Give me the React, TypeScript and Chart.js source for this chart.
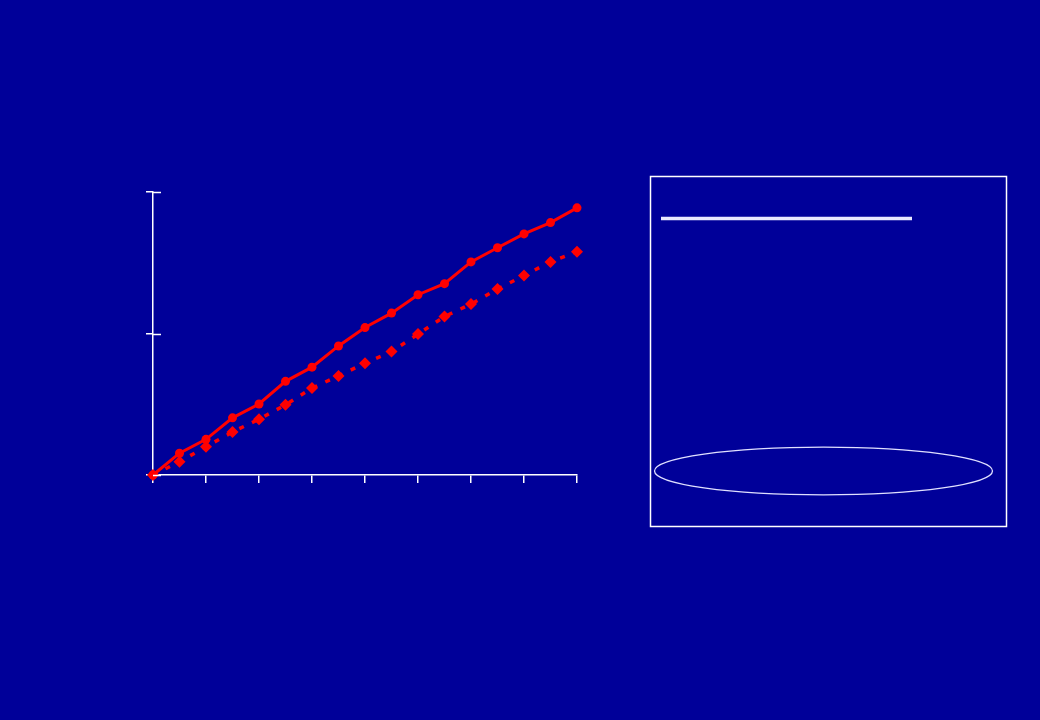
import React, { useEffect, useRef } from "react";
import { Chart, registerables } from "chart.js";

Chart.register(...registerables);

const xValues = [0, 1, 2, 3, 4, 5, 6, 7, 8, 9, 10, 11, 12, 13, 14, 15, 16];
const solidSeries = [0, 7.7, 12.6, 20.2, 25.1, 33.1, 38.1, 45.6, 52.1, 57.2, 63.7, 67.6, 75.3, 80.3, 85.2, 89.2, 94.4];
const dottedSeries = [0, 4.7, 10.0, 15.2, 19.7, 24.8, 30.7, 35.0, 39.5, 43.6, 49.8, 56.0, 60.4, 65.7, 70.5, 75.3, 78.9];
const yTicks = [0, 50, 100];
const xTickStep = 2;

const BG = "#000099";
const RED = "#ff0000";

const decorPlugin = {
  id: "decor",
  beforeDraw(chart: any) {
    const ctx = chart.ctx;
    ctx.save();
    ctx.fillStyle = BG;
    ctx.fillRect(0, 0, chart.width, chart.height);
    ctx.restore();
  },
  afterDraw(chart: any) {
    const ctx = chart.ctx;
    const ys = chart.scales.y;
    const area = chart.chartArea;
    ctx.save();
    ctx.strokeStyle = "#ffffff";
    ctx.lineWidth = 1.5;
    for (const v of yTicks) {
      const py = Math.round(ys.getPixelForValue(v)) + 0.5;
      ctx.beginPath();
      ctx.moveTo(area.left, py);
      ctx.lineTo(area.left + 8, py);
      ctx.stroke();
    }
    ctx.lineWidth = 1.5;
    ctx.strokeStyle = "#ffffff";
    ctx.strokeRect(650.5, 176.5, 356, 350);
    ctx.lineWidth = 3.5;
    ctx.strokeStyle = "#e8e8ff";
    ctx.beginPath();
    ctx.moveTo(661, 218.5);
    ctx.lineTo(912, 218.5);
    ctx.stroke();
    ctx.lineWidth = 1.3;
    ctx.strokeStyle = "#e0e0ff";
    ctx.beginPath();
    ctx.ellipse(823.5, 471, 169, 23.8, 0, 0, Math.PI * 2);
    ctx.stroke();
    ctx.restore();
  },
};

export default function App() {
  const ref = useRef<HTMLCanvasElement | null>(null);

  useEffect(() => {
    if (!ref.current) return;
    const chart = new Chart(ref.current, {
      type: "line",
      data: {
        datasets: [
          {
            label: "solid",
            data: xValues.map((x, i) => ({ x, y: solidSeries[i] })),
            borderColor: RED,
            backgroundColor: RED,
            borderWidth: 3,
            pointStyle: "circle",
            pointRadius: 4.5,
            pointBorderWidth: 0,
            tension: 0,
            fill: false,
            clip: false,
          },
          {
            label: "dotted",
            data: xValues.map((x, i) => ({ x, y: dottedSeries[i] })),
            borderColor: RED,
            backgroundColor: RED,
            borderWidth: 3.5,
            borderDash: [5, 9],
            pointStyle: "rectRot",
            pointRadius: 6,
            pointBorderWidth: 0,
            tension: 0,
            fill: false,
            clip: false,
          },
        ],
      },
      options: {
        responsive: false,
        animation: false,
        events: [],
        layout: { padding: { left: 153, top: 192, right: 463, bottom: 245 } },
        plugins: { legend: { display: false }, tooltip: { enabled: false }, title: { display: false } },
        scales: {
          x: {
            type: "linear",
            min: 0,
            max: 16,
            afterFit: (s: any) => {
              s.height = 0;
            },
            afterBuildTicks: (s: any) => {
              s.ticks = xValues.filter((v) => v % xTickStep === 0).map((v) => ({ value: v }));
            },
            ticks: { display: false },
            grid: { drawOnChartArea: false, drawTicks: true, tickLength: 8, color: "#ffffff", lineWidth: 1.5 },
            border: { display: true, color: "#ffffff", width: 1.5 },
          },
          y: {
            min: 0,
            max: 100,
            afterFit: (s: any) => {
              s.width = 0;
            },
            afterBuildTicks: (s: any) => {
              s.ticks = yTicks.map((v) => ({ value: v }));
            },
            ticks: { display: false },
            grid: { drawOnChartArea: false, drawTicks: true, tickLength: 7, color: "#ffffff", lineWidth: 1.5 },
            border: { display: true, color: "#ffffff", width: 1.5 },
          },
        },
      },
      plugins: [decorPlugin],
    });
    return () => chart.destroy();
  }, []);

  return (
    <div style={{ position: "fixed", left: 0, top: 0, width: 1040, height: 720, background: BG }}>
      <canvas ref={ref} width={1040} height={720} style={{ display: "block", width: 1040, height: 720 }} />
    </div>
  );
}
